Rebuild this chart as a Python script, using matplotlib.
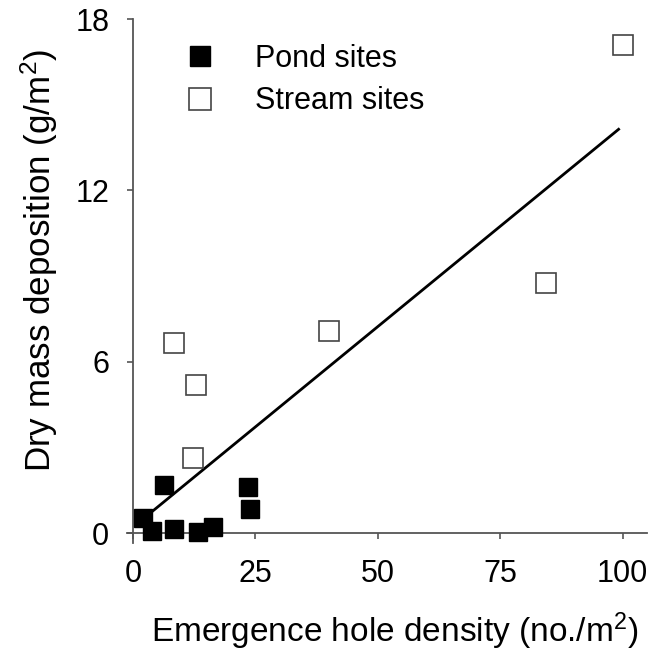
import matplotlib
matplotlib.use("Agg")
import matplotlib.pyplot as plt

plt.rcParams['font.family'] = ['Liberation Sans', 'DejaVu Sans']
plt.rcParams['mathtext.fontset'] = 'custom'
plt.rcParams['mathtext.rm'] = 'Liberation Sans'
plt.rcParams['mathtext.it'] = 'Liberation Sans'

# pond sites (filled squares)
pond_x = [2.1, 3.9, 6.4, 8.3, 13.4, 16.3, 23.6, 24.0]
pond_y = [0.53, 0.07, 1.69, 0.14, 0.02, 0.20, 1.62, 0.84]

# stream sites (open squares)
stream_x = [8.4, 12.2, 12.8, 40.1, 84.3, 100.2]
stream_y = [6.65, 2.64, 5.18, 7.08, 8.77, 17.1]

# regression line
slope = 0.1405
intercept = 0.20
line_x = [2.1, 99.2]
line_y = [intercept + slope * v for v in line_x]

x_ticks = [0, 25, 50, 75, 100]
y_ticks = [0, 6, 12, 18]

fig = plt.figure(figsize=(6.67, 6.53), dpi=100)
ax = fig.add_axes([127 / 667, 1 - 543 / 653, (647 - 127) / 667, (543 - 19) / 653])

ax.plot(line_x, line_y, color='black', lw=2.0, zorder=2)
ax.plot(pond_x, pond_y, 's', ms=13.5, mfc='black', mec='black', mew=1,
        ls='none', label='Pond sites', zorder=3, clip_on=False)
ax.plot(stream_x, stream_y, 's', ms=14.5, mfc='white', mec='#444444', mew=1.2,
        ls='none', label='Stream sites', zorder=3, clip_on=False)

ax.set_xlim(-1.2, 105)
ax.set_ylim(-0.35, 18)
ax.set_xticks(x_ticks)
ax.set_yticks(y_ticks)

for side in ['top', 'right']:
    ax.spines[side].set_visible(False)
for side in ['left', 'bottom']:
    ax.spines[side].set_position(('data', 0))
    ax.spines[side].set_color('#555555')
    ax.spines[side].set_linewidth(1.3)
ax.spines['left'].set_bounds(-0.35, 18)
ax.spines['bottom'].set_bounds(-1.2, 105)

ax.tick_params(direction='out', length=4, width=1.2, color='#555555',
               labelsize=22)
ax.tick_params(axis='x', pad=15)
ax.tick_params(axis='y', pad=13)

ax.set_xlabel('Emergence hole density (no./m$^2$)', fontsize=24, labelpad=15, x=0.515)
ax.set_ylabel('Dry mass deposition (g/m$^2$)', fontsize=25.2, labelpad=11, y=0.540)

leg = ax.legend(loc='upper left', bbox_to_anchor=(185 / 667, 1 - 44 / 653),
                bbox_transform=fig.transFigure, frameon=False,
                fontsize=22, handletextpad=1.3, labelspacing=0.4,
                handlelength=1.0, markerscale=1.05, borderaxespad=0, borderpad=0)

fig.savefig('out.png', dpi=100)
